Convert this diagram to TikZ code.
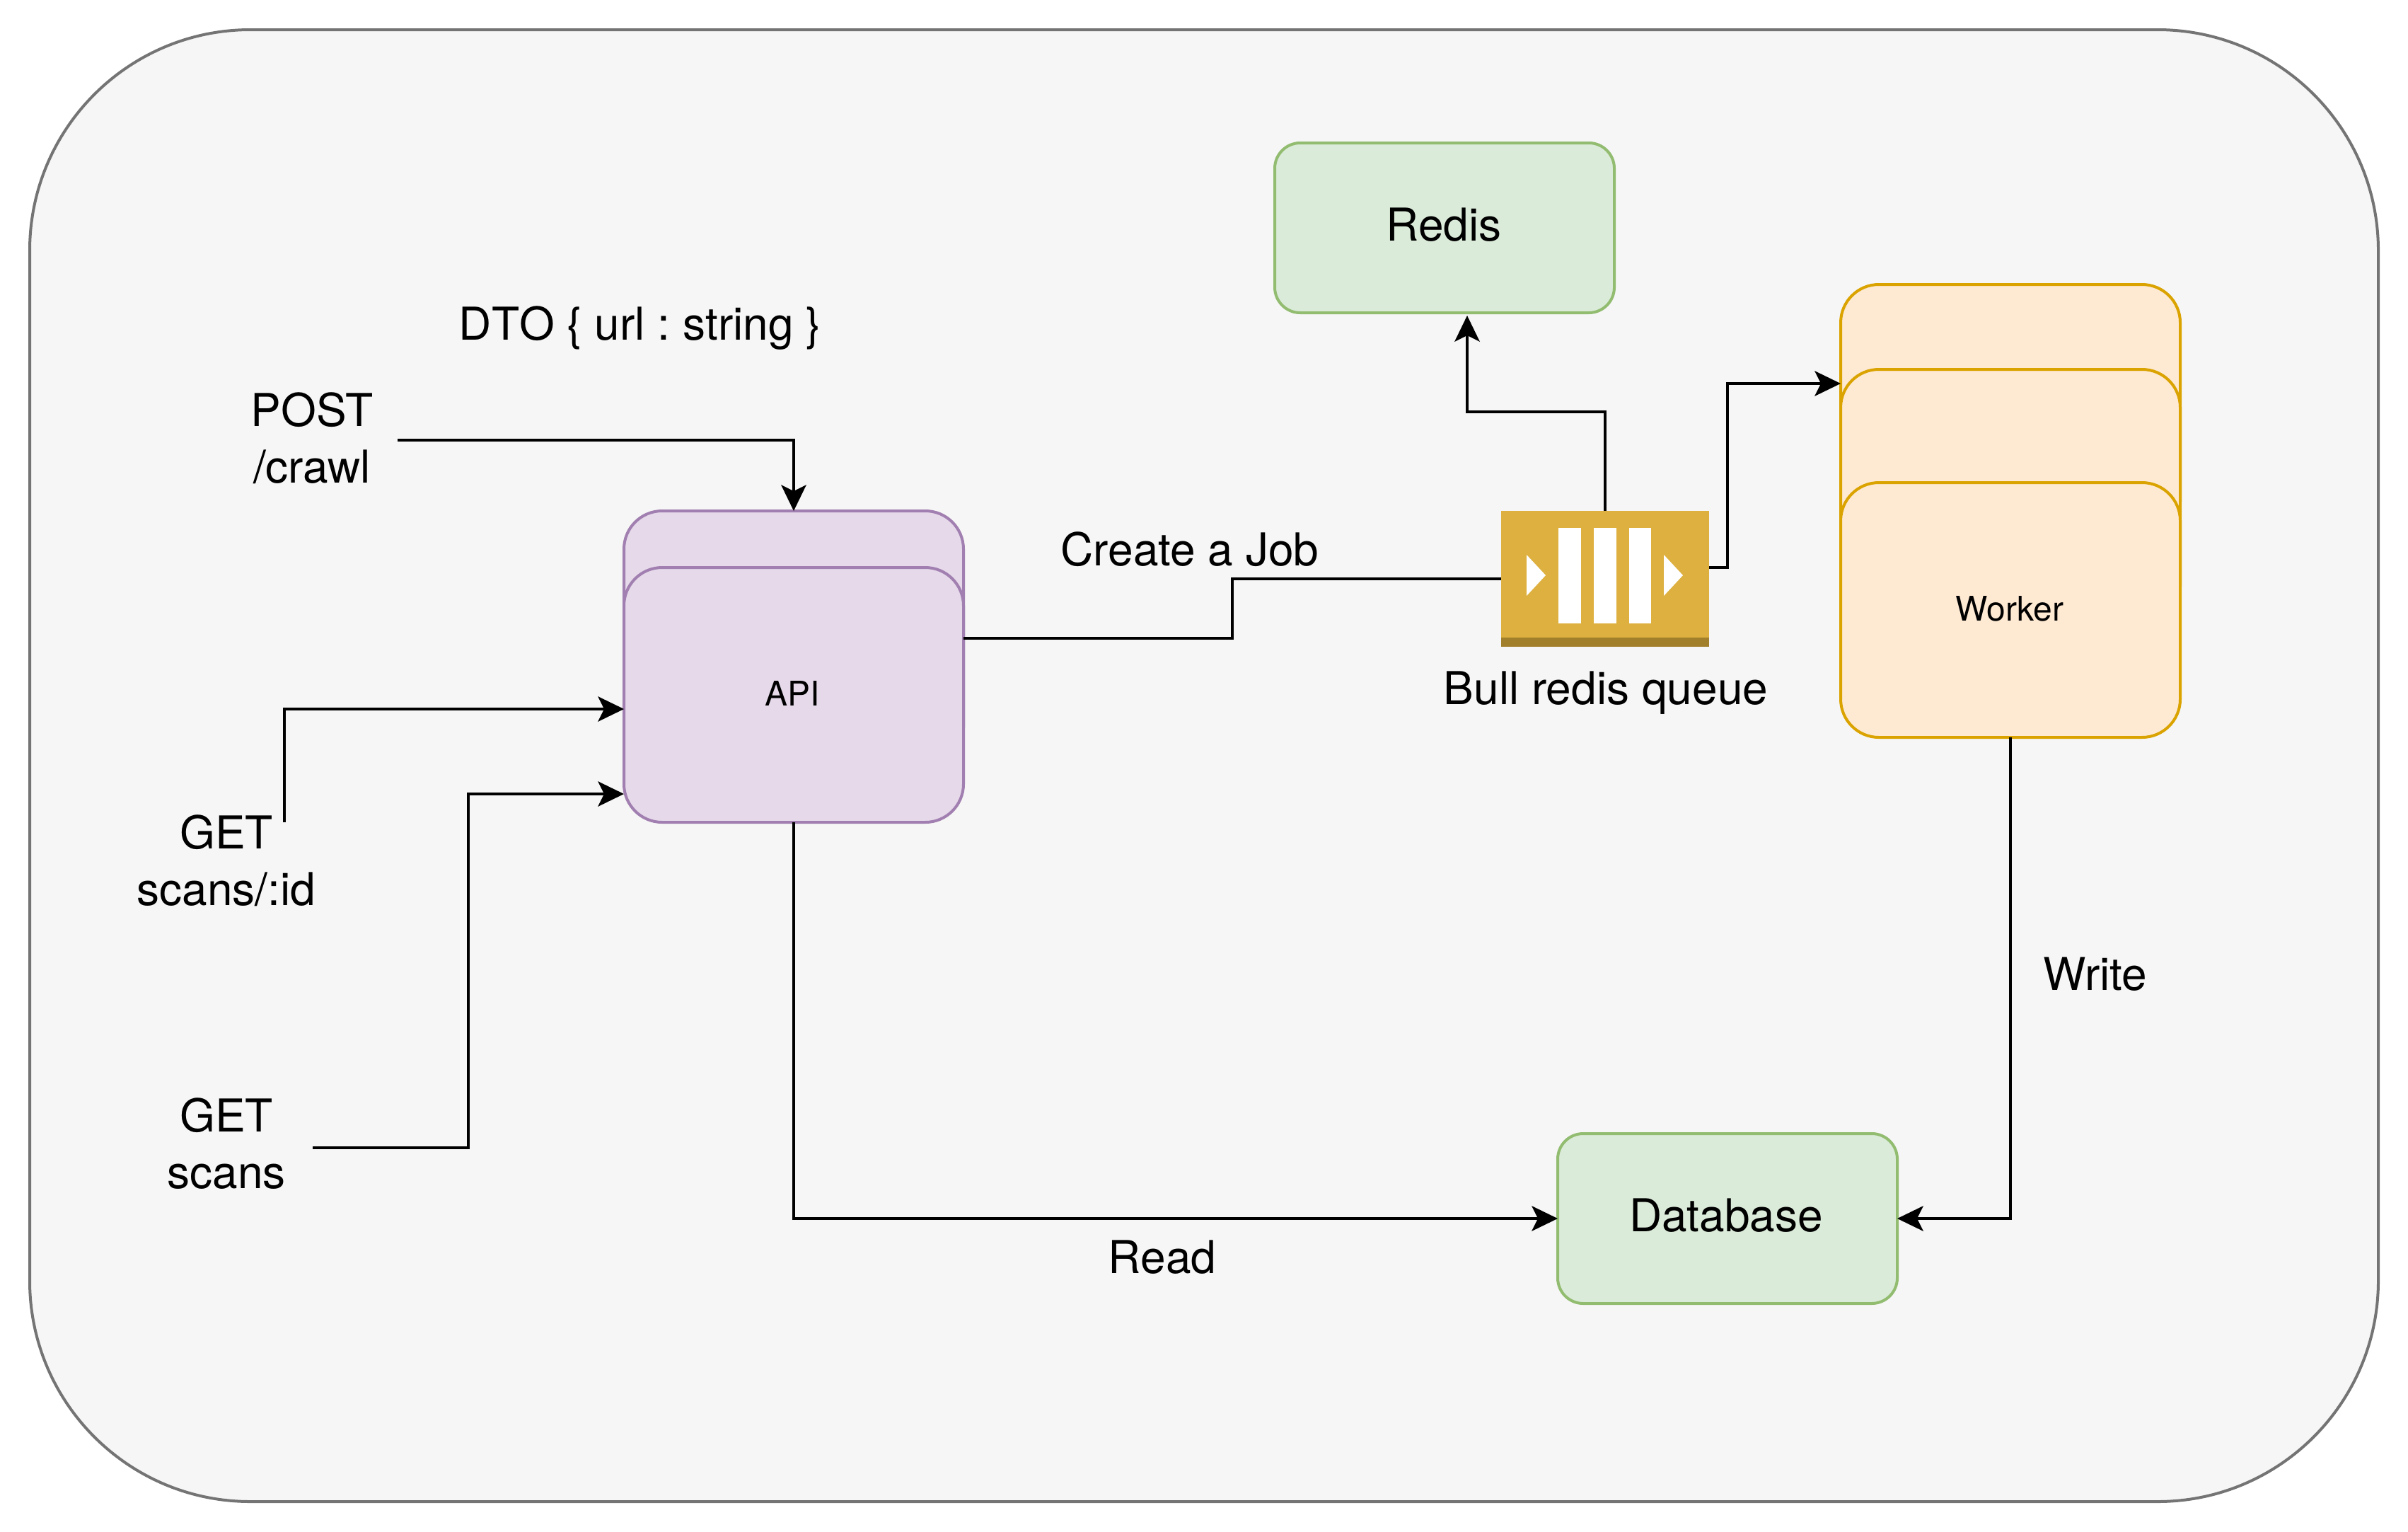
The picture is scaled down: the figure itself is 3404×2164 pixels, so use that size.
\documentclass[tikz,border=0pt]{standalone}
\usepackage{fontspec}
\setmainfont{TeX Gyre Heros}
\usetikzlibrary{arrows.meta}
\frenchspacing
\definecolor{outerfill}{HTML}{F6F6F6}
\definecolor{outerline}{HTML}{747474}
\definecolor{greenfill}{HTML}{DBEBD9}
\definecolor{greenline}{HTML}{92BC70}
\definecolor{purplefill}{HTML}{E5D9EA}
\definecolor{purpleline}{HTML}{A17FB0}
\definecolor{orangefill}{HTML}{FEE9D2}
\definecolor{orangeline}{HTML}{DAA300}
\definecolor{queuegold}{HTML}{DDB040}
\definecolor{queuedark}{HTML}{A2802B}
\tikzset{
  x=1pt,y=-1pt,
  box/.style={draw,line width=4pt,inner sep=0pt,outer sep=0pt,minimum width=480pt,align=center},
  apibox/.style={box,fill=purplefill,draw=purpleline,minimum height=360pt,rounded corners=54pt},
  workerbox/.style={box,fill=orangefill,draw=orangeline,minimum height=360pt,rounded corners=54pt},
  storebox/.style={box,fill=greenfill,draw=greenline,minimum height=240pt,rounded corners=36pt},
  lbl/.style={inner sep=0pt,outer sep=0pt,font=\fontsize{64}{80}\selectfont,anchor=base},
  small/.style={inner sep=0pt,outer sep=0pt,font=\fontsize{48}{58}\selectfont,anchor=base},
  src/.style={inner sep=0pt,outer sep=0pt,font=\fontsize{64}{80}\selectfont,align=center,minimum height=120pt},
  conn/.style={line width=4pt,draw=black},
  arr/.style={conn,-{Stealth[length=37pt,width=36pt,inset=9pt,line width=0pt]}},
  bar/.style={fill=white,draw=none}
}
\begin{document}
\begin{tikzpicture}
\useasboundingbox (0,0) rectangle (3404,2164);
\node[draw=outerline,fill=outerfill,line width=4pt,inner sep=0pt,outer sep=0pt,minimum width=3320pt,minimum height=2080pt,rounded corners=312pt] (frame) at (1702,1082) {};
% API stack
\node[apibox] (apiback) at (1122,902) {};
\node[apibox] (api) at (1122,982) {};
\node[small] (apilabel) at (1120,997) {API};
% Worker stack
\node[workerbox] (worker1) at (2842,582) {};
\node[workerbox] (worker2) at (2842,702) {};
\node[workerbox] (worker) at (2842,862) {};
\node[small] (workerlabel) at (2841,877) {Worker};
% Stores
\node[storebox] (redis) at (2042,322) {};
\node[lbl] (redislabel) at (2041,340) {Redis};
\node[storebox] (db) at (2442,1722) {};
\node[lbl] (dblabel) at (2440,1740) {Database};
% Queue icon
\node[fill=queuegold,inner sep=0pt,outer sep=0pt,minimum width=294pt,minimum height=192pt] (queue) at (2269,818) {};
\fill[queuedark] (2122,901) rectangle (2416,914);
\fill[bar] (2203,746) rectangle (2235,881);
\fill[bar] (2253,746) rectangle (2285,881);
\fill[bar] (2303,746) rectangle (2334,881);
\fill[bar] (2158,784) -- (2185,813) -- (2158,842) -- cycle;
\fill[bar] (2352,784) -- (2379,813) -- (2352,842) -- cycle;
% Sources
\node[src,minimum width=240pt] (post) at (441,619) {POST\\/crawl};
\node[src,minimum width=240pt] (scanid) at (320,1216) {GET\\scans/:id};
\node[src,minimum width=244pt] (scans) at (320,1616) {GET\\scans};
% Labels
\node[lbl] (dto) at (905,480) {\addfontfeature{Kerning=Off}DTO \{ url : string \}};
\node[lbl] (job) at (1682,799) {Create a Job};
\node[lbl] (bull) at (2270,995) {Bull redis queue};
\node[lbl] (read) at (1643,1799) {Read};
\node[lbl] (write) at (2962,1399) {Write};
% Connectors
\draw[arr] (562,622) -| (api.center |- apiback.north);
\draw[arr] (402,1162) |- ([yshift=-20pt]api.west);
\draw[arr] (442,1622) -- (662,1622) |- ([yshift=-140pt]api.west);
\draw[conn] ([yshift=80pt]api.east) -| (1742,818) -- (queue.west);
\draw[arr] (api.south) |- (db.west);
\draw[arr] (worker.south) |- (db.east);
\draw[arr] (queue.north) |- (2074,582) -- (2074,446);
\draw[arr] ([yshift=16pt]queue.east) -| (2442,542) -- (2602,542);
\end{tikzpicture}
\end{document}
